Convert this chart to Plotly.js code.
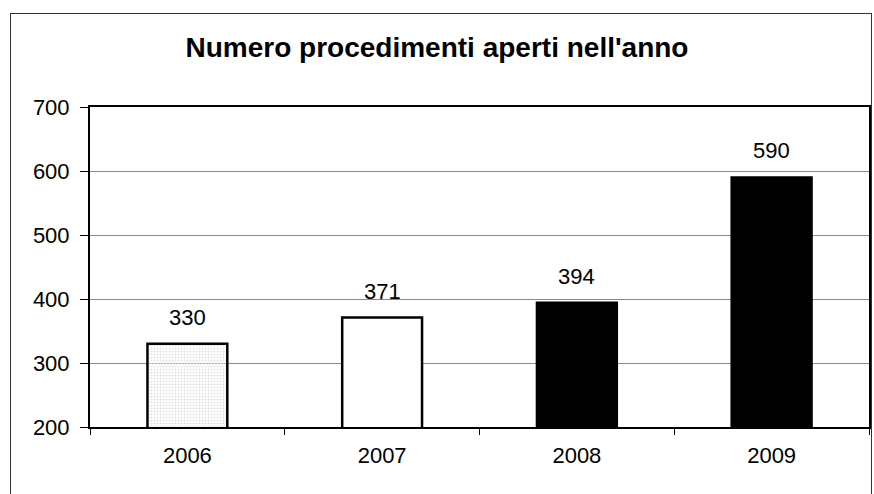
<!DOCTYPE html>
<html>
<head>
<meta charset="utf-8">
<script src="https://cdn.plot.ly/plotly-3.0.1.min.js"></script>
<style>
  body { margin: 0; background: #fff; }
  #chart { width: 874px; height: 494px; }
  #frame {
    position: absolute; left: 10px; top: 13px; width: 860px; height: 490px;
    border: 1px solid #333; pointer-events: none;
  }
</style>
</head>
<body>
<div id="chart"></div>
<div id="frame"></div>
<script>
// values
const years = ["2006", "2007", "2008", "2009"];
const counts = [330, 371, 394, 590];
const fills = ["#e2e2e2", "#ffffff", "#000000", "#000000"];
const patterns = [".", "", "", ""];

const FONT = "Liberation Sans, Arial, sans-serif";

// bars sit on slots 0..n-1, ticks go on the slot boundaries
const slots = years.map((_, i) => i);
const bounds = years.map((_, i) => i - 0.5).concat([years.length - 0.5]);

const trace = {
  type: "bar",
  x: slots,
  y: counts,
  width: 0.41,
  marker: {
    color: fills,
    line: { color: "#000", width: 2.5 },
    pattern: { shape: patterns, fgcolor: "#555", size: 3, solidity: 0.35 }
  },
  hoverinfo: "none"
};

// value labels sit a bit above each bar
const labels = slots.map((s, i) => ({
  x: s, y: counts[i], text: String(counts[i]),
  showarrow: false, yanchor: "bottom", yshift: 12,
  font: { family: FONT, size: 22, color: "#000" }
}));

const layout = {
  width: 874, height: 494,
  margin: { l: 90, r: 5, t: 107, b: 67 },
  paper_bgcolor: "#fff", plot_bgcolor: "#fff",
  showlegend: false,
  title: {
    text: "<b>Numero procedimenti aperti nell'anno</b>",
    font: { family: FONT, size: 28, color: "#000" },
    x: 0.5, xref: "container", xanchor: "center",
    y: 0.905, yref: "container", yanchor: "middle"
  },
  xaxis: {
    range: [-0.5, years.length - 0.5],
    tickmode: "array", tickvals: slots, ticktext: years,
    ticks: "", ticklabelstandoff: 8,
    minor: { tickmode: "array", tickvals: bounds, ticks: "outside", ticklen: 6, tickcolor: "#000", tickwidth: 1, showgrid: false },
    showline: true, linecolor: "#000", linewidth: 2, mirror: true,
    showgrid: false, zeroline: false,
    tickfont: { family: FONT, size: 22, color: "#000" },
    fixedrange: true
  },
  yaxis: {
    range: [200, 700],
    dtick: 100,
    ticks: "outside", ticklen: 8, tickcolor: "#000", tickwidth: 1,
    ticklabelstandoff: 6,
    showline: true, linecolor: "#000", linewidth: 2, mirror: true,
    showgrid: true, gridcolor: "#8a8a8a", gridwidth: 1,
    zeroline: false,
    tickfont: { family: FONT, size: 22, color: "#000" },
    fixedrange: true
  },
  annotations: labels
};

Plotly.newPlot("chart", [trace], layout, { displayModeBar: false, staticPlot: true });
</script>
</body>
</html>
